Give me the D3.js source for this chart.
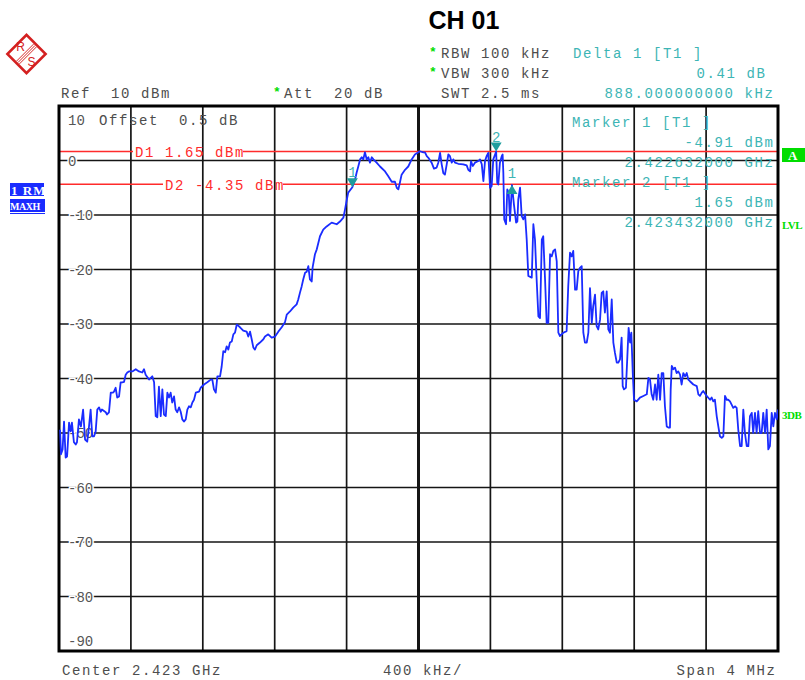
<!DOCTYPE html>
<html>
<head>
<meta charset="utf-8">
<script src="https://cdn.jsdelivr.net/npm/d3@7"></script>
<style>
  body { margin: 0; background: #fff; }
  text { font-family: "Liberation Mono", "DejaVu Sans Mono", monospace; font-size: 14px; letter-spacing: 1.6px; white-space: pre; }
</style>
</head>
<body>
<svg id="chart" width="805" height="680"></svg>
<script>
// trace: frequency offset from centre (kHz) and level (dBm)
const freqKHz = [
  -1994,-1989,-1980,-1972,-1963,-1955,-1944,-1935,-1928,-1917,
  -1907,-1900,-1889,-1878,-1866,-1855,-1843,-1833,-1824,-1815,
  -1805,-1796,-1787,-1777,-1768,-1761,-1740,-1733,-1722,-1712,
  -1700,-1694,-1685,-1676,-1666,-1657,-1648,-1638,-1629,-1620,
  -1611,-1592,-1573,-1555,-1537,-1527,-1518,-1499,-1481,-1471,
  -1462,-1453,-1444,-1434,-1425,-1416,-1406,-1397,-1388,-1379,
  -1370,-1360,-1351,-1342,-1332,-1323,-1314,-1305,-1295,-1286,
  -1277,-1267,-1258,-1249,-1239,-1221,-1212,-1193,-1175,-1156,
  -1147,-1138,-1128,-1119,-1104,-1095,-1086,-1076,-1067,-1058,
  -1049,-1039,-1030,-1021,-1011,-1003,-993,-975,-956,-947,
  -937,-928,-919,-910,-900,-882,-863,-854,-836,-817,
  -798,-780,-761,-743,-733,-715,-697,-678,-669,-659,
  -650,-641,-631,-622,-613,-604,-594,-589,-576,-566,
  -548,-530,-511,-483,-455,-437,-418,-409,-399,-391,
  -368,-353,-344,-335,-325,-316,-307,-298,-288,-279,
  -270,-260,-251,-233,-214,-186,-168,-149,-131,-121,
  -112,-103,-94,-75,-57,-38,-20,-1,8,27,
  36,46,55,73,86,101,110,120,129,138,
  147,157,166,175,185,194,203,221,249,268,
  277,287,292,302,314,333,342,352,361,370,
  379,388,398,407,416,432,438,444,453,463,
  468,472,477,487,494,502,509,520,531,543,
  550,555,565,574,583,593,602,611,630,639,
  648,658,667,676,686,694,704,713,722,732,
  741,750,760,769,778,787,806,824,833,843,
  852,861,871,880,889,898,908,917,926,936,
  945,954,964,972,982,991,1000,1010,1019,1028,
  1037,1047,1056,1065,1075,1084,1093,1103,1111,1121,
  1130,1136,1143,1154,1162,1169,1177,1184,1192,1199,
  1214,1232,1251,1270,1279,1288,1297,1306,1316,1325,
  1334,1344,1353,1362,1371,1381,1390,1399,1403,1409,
  1418,1427,1436,1445,1455,1464,1473,1483,1492,1501,
  1510,1529,1548,1557,1566,1576,1584,1603,1622,1631,
  1640,1649,1659,1668,1677,1687,1696,1705,1715,1723,
  1733,1742,1751,1761,1770,1779,1789,1798,1807,1816,
  1826,1835,1844,1854,1862,1872,1881,1890,1900,1909,
  1918,1928,1937,1946,1955,1965,1974,1983,1993,2000
];
const levelDbm = [
  -49.4,-53.9,-53.0,-47.9,-54.5,-54.3,-48.1,-49.7,-48.1,-51.7,
  -52.1,-51.7,-47.5,-48.8,-45.7,-51.2,-51.6,-48.8,-45.7,-50.6,
  -50.6,-49.7,-45.7,-45.3,-46.1,-45.7,-46.2,-46.6,-46.2,-42.6,
  -42.6,-42.4,-41.7,-43.5,-43.3,-40.7,-40.7,-40.6,-39.3,-38.9,
  -38.7,-38.7,-38.3,-38.7,-38.9,-38.3,-39.3,-40.2,-39.6,-40.7,
  -46.9,-47.1,-41.5,-46.9,-42.0,-46.6,-46.9,-42.6,-43.5,-42.6,
  -44.4,-43.3,-45.7,-46.2,-45.3,-46.1,-47.5,-47.9,-47.5,-45.7,
  -45.1,-45.3,-44.4,-43.9,-42.6,-42.4,-41.7,-41.1,-40.7,-40.2,
  -40.2,-42.0,-42.6,-39.6,-39.6,-37.8,-35.0,-35.2,-34.1,-34.7,
  -33.4,-33.2,-31.9,-31.6,-30.1,-30.3,-30.6,-31.2,-31.4,-32.3,
  -31.4,-32.8,-34.3,-34.7,-33.9,-33.4,-32.8,-32.3,-31.9,-32.5,
  -32.3,-31.4,-30.6,-29.7,-28.3,-27.7,-27.0,-26.4,-25.5,-24.2,
  -23.1,-21.8,-20.6,-20.4,-19.4,-21.8,-22.2,-19.6,-17.2,-16.3,
  -13.9,-12.7,-12.1,-11.4,-11.7,-11.2,-10.5,-9.0,-7.2,-5.9,
  -4.91,-3.5,-2.2,-1.1,0.2,0.6,0.2,1.5,0.2,0.6,
  -0.4,0.6,0.2,-0.4,-1.1,-2.0,-2.9,-3.9,-3.9,-5.0,
  -5.3,-4.0,-2.6,-1.7,-1.1,0.2,1.1,1.5,1.7,1.5,
  1.5,0.8,0.5,-0.4,-1.5,-1.3,-0.4,1.4,-0.7,-2.3,
  -2.6,-0.7,1.1,0.8,-0.4,0.2,-0.4,-0.6,-0.7,-0.9,
  -1.7,-2.0,-0.1,-1.0,-0.4,-0.1,0.2,-0.7,-3.8,-0.1,
  0.8,1.4,-5.0,-4.7,0.2,1.65,-4.1,-4.4,-0.4,0.8,
  1.1,-2.3,-10.8,-11.7,-5.3,-5.9,-11.1,-4.5,-8.1,-11.4,
  -11.2,-7.2,-5.0,-10.2,-10.8,-9.9,-14.5,-21.2,-21.5,-11.7,
  -14.5,-22.4,-28.6,-28.9,-14.5,-13.9,-21.8,-29.8,-29.8,-17.2,
  -17.6,-16.6,-16.3,-18.5,-31.6,-32.2,-31.6,-31.3,-23.1,-16.9,
  -17.6,-16.6,-23.7,-23.7,-20.3,-19.7,-19.4,-31.6,-33.4,-33.4,
  -31.6,-23.4,-29.8,-26.7,-24.6,-30.4,-31.0,-29.2,-24.3,-24.0,
  -27.9,-24.0,-31.0,-31.6,-25.5,-33.4,-35.3,-37.1,-37.1,-36.5,
  -32.5,-41.4,-42.0,-41.7,-35.9,-30.7,-33.4,-31.6,-39.0,-43.9,
  -44.2,-43.5,-43.2,-42.9,-39.9,-40.2,-42.9,-43.9,-41.1,-43.9,
  -39.3,-43.9,-39.0,-39.0,-45.1,-48.8,-49.0,-49.0,-42.0,-37.7,
  -38.3,-38.0,-39.0,-38.7,-39.3,-41.1,-39.0,-39.6,-39.0,-40.2,
  -40.5,-41.1,-41.4,-42.9,-43.2,-42.6,-42.3,-43.2,-43.9,-43.5,
  -44.2,-43.9,-46.9,-48.8,-50.6,-50.9,-50.6,-43.2,-43.9,-43.9,
  -44.2,-44.8,-45.4,-45.1,-45.4,-49.4,-52.4,-52.4,-45.7,-50.0,
  -52.4,-52.4,-46.9,-46.3,-50.0,-46.3,-50.0,-46.0,-50.0,-50.0,
  -46.3,-50.0,-45.7,-53.0,-52.4,-46.3,-48.8,-46.3,-47.5,-45.7
];

const yTicks = [10, 0, -10, -20, -30, -40, -50, -60, -70, -80, -90];
const xTicks = [-2000, -1600, -1200, -800, -400, 0, 400, 800, 1200, 1600, 2000];

// display lines D1 / D2
const displayLines = [
  { label: "D1 1.65 dBm", level: 1.65, labelX: 135 },
  { label: "D2 -4.35 dBm", level: -4.35, labelX: 165 }
];

// markers: freq offset kHz, level dBm
const markers = [
  { name: "1", freq: -368, level: -4.91, dir: "down" },
  { name: "2", freq: 432, level: 1.65, dir: "down" },
  { name: "1", freq: 520, level: -4.50, dir: "up" }
];

const markerInfo = ["Marker 1 [T1 ]", "-4.91 dBm", "2.422632000 GHz", "Marker 2 [T1 ]", "1.65 dBm", "2.423432000 GHz"];

const gray = "#4d4d4d";
const teal = "#3db5b5";
const red = "#ff2b2b";
const green = "#00dd00";
const blue = "#1a2cff";

const svg = d3.select("#chart");
const plot = { left: 59, right: 778, top: 106, bottom: 651 };

const x = d3.scaleLinear().domain([-2000, 2000]).range([plot.left, plot.right]);
const y = d3.scaleLinear().domain([10, -90]).range([plot.top, plot.bottom]);

function label(xp, yp, str, color, anchor) {
  return svg.append("text")
    .attr("x", xp)
    .attr("y", yp)
    .attr("fill", color || gray)
    .attr("text-anchor", anchor || "start")
    .text(str);
}

// R&S logo
const logo = svg.append("g").attr("transform", "translate(26.5,54) rotate(45)");
logo.append("rect")
  .attr("x", -13.5).attr("y", -13.5)
  .attr("width", 27).attr("height", 27)
  .attr("fill", "none")
  .attr("stroke", "#d42020")
  .attr("stroke-width", 2.6);
[-2, 0, 2].forEach(o => {
  logo.append("line")
    .attr("x1", o).attr("x2", o)
    .attr("y1", -12).attr("y2", 12)
    .attr("stroke", "#d42020").attr("stroke-width", 0.9);
});
svg.append("text").attr("x", 20.5).attr("y", 51).attr("text-anchor", "middle")
  .style("font-family", "Liberation Sans").style("font-size", "12px").style("letter-spacing", "0")
  .attr("fill", "#d42020").text("R");
svg.append("text").attr("x", 31.5).attr("y", 66).attr("text-anchor", "middle")
  .style("font-family", "Liberation Sans").style("font-size", "12px").style("letter-spacing", "0")
  .attr("fill", "#d42020").text("S");

// Title
svg.append("text")
  .attr("x", 464).attr("y", 29)
  .attr("text-anchor", "middle")
  .style("font-family", "Liberation Sans, Arial, sans-serif")
  .style("font-weight", "bold")
  .style("font-size", "25px")
  .style("letter-spacing", "0")
  .attr("fill", "#000")
  .text("CH 01");

// header settings
label(441, 58, "RBW 100 kHz");
label(441, 78, "VBW 300 kHz");
label(441, 98, "SWT 2.5 ms");
label(61, 98, "Ref  10 dBm");
label(284, 98, "Att  20 dB");
[[429, 56], [429, 76], [273, 96]].forEach(p => {
  svg.append("text").attr("x", p[0]).attr("y", p[1])
    .style("font-size", "13px").style("letter-spacing", "0")
    .style("font-weight", "bold")
    .attr("fill", green).text("*");
});
label(573, 58, "Delta 1 [T1 ]", teal);
label(766.6, 78, "0.41 dB", teal, "end");
label(774.6, 98, "888.000000000 kHz", teal, "end");

// grid
svg.append("g")
  .selectAll("line")
  .data(xTicks.slice(1, -1))
  .join("line")
  .attr("x1", d => x(d)).attr("x2", d => x(d))
  .attr("y1", plot.top).attr("y2", plot.bottom)
  .attr("stroke", "#151515")
  .attr("stroke-width", d => d === 0 ? 3 : 1.7);

svg.append("g")
  .selectAll("line")
  .data(yTicks.slice(1, -1))
  .join("line")
  .attr("x1", plot.left).attr("x2", plot.right)
  .attr("y1", d => y(d)).attr("y2", d => y(d))
  .attr("stroke", "#151515")
  .attr("stroke-width", 1.7);

// y tick labels, white behind them so the grid line stops
svg.append("g")
  .selectAll("text")
  .data(yTicks)
  .join("text")
  .attr("x", 68)
  .attr("y", d => d === 10 ? 120 : d === -90 ? 641 : y(d))
  .attr("dy", "0.36em")
  .style("letter-spacing", "0")
  .attr("fill", "#555")
  .attr("stroke", "#fff")
  .attr("stroke-width", 3)
  .attr("paint-order", "stroke")
  .text(d => String(d));

label(99, 125, "Offset  0.5 dB");

// display lines, broken where the label sits
displayLines.forEach(dl => {
  const ly = y(dl.level);
  const w = dl.label.length * 10;
  svg.append("line")
    .attr("x1", plot.left).attr("x2", dl.labelX - 2)
    .attr("y1", ly).attr("y2", ly)
    .attr("stroke", red).attr("stroke-width", 1.6);
  svg.append("line")
    .attr("x1", dl.labelX + w - 2).attr("x2", plot.right)
    .attr("y1", ly).attr("y2", ly)
    .attr("stroke", red).attr("stroke-width", 1.6);
  label(dl.labelX, ly + 5.5, dl.label, red);
});

// frame
svg.append("rect")
  .attr("x", plot.left).attr("y", plot.top)
  .attr("width", plot.right - plot.left)
  .attr("height", plot.bottom - plot.top)
  .attr("fill", "none")
  .attr("stroke", "#000")
  .attr("stroke-width", 3);

// marker readout
const infoY = [127, 147, 167, 187, 207, 227];
markerInfo.forEach((s, i) => {
  if (i % 3 === 0) label(572, infoY[i], s, teal);
  else label(774.6, infoY[i], s, teal, "end");
});

// trace
svg.append("clipPath").attr("id", "plotclip")
  .append("rect")
  .attr("x", plot.left).attr("y", plot.top)
  .attr("width", plot.right - plot.left)
  .attr("height", plot.bottom - plot.top);

const traceData = d3.zip(freqKHz, levelDbm);
const line = d3.line()
  .x(d => x(d[0]))
  .y(d => y(d[1]));

svg.append("path")
  .datum(traceData)
  .attr("clip-path", "url(#plotclip)")
  .attr("fill", "none")
  .attr("stroke", blue)
  .attr("stroke-width", 1.8)
  .attr("stroke-linejoin", "round")
  .attr("d", line);

// markers
markers.forEach(m => {
  const mx = x(m.freq), my = y(m.level);
  const tri = m.dir === "down"
    ? `M${mx - 5.5},${my - 9}L${mx + 5.5},${my - 9}L${mx},${my}Z`
    : `M${mx},${my}L${mx + 5.5},${my + 9}L${mx - 5.5},${my + 9}Z`;
  svg.append("path").attr("d", tri).attr("fill", "#1e9d9d");
  svg.append("text")
    .attr("x", mx).attr("y", m.dir === "down" ? my - 10 : my - 7)
    .attr("text-anchor", "middle")
    .style("letter-spacing", "0")
    .attr("fill", teal)
    .text(m.name);
});

// left status boxes
svg.append("clipPath").attr("id", "boxclip1")
  .append("rect").attr("x", 10).attr("y", 183).attr("width", 34).attr("height", 14);
svg.append("clipPath").attr("id", "boxclip2")
  .append("rect").attr("x", 10).attr("y", 199).attr("width", 35).attr("height", 15);
svg.append("rect").attr("x", 10).attr("y", 183).attr("width", 34).attr("height", 14).attr("fill", blue);
svg.append("rect").attr("x", 10).attr("y", 199).attr("width", 35).attr("height", 15).attr("fill", blue);
svg.append("text").attr("x", 11).attr("y", 195)
  .attr("clip-path", "url(#boxclip1)")
  .style("font-family", "Liberation Serif").style("font-weight", "bold")
  .style("font-size", "13px").style("letter-spacing", "1px")
  .attr("fill", "#fff").text("1 RM *");
svg.append("text").attr("x", 10).attr("y", 210)
  .attr("clip-path", "url(#boxclip2)")
  .style("font-family", "Liberation Serif").style("font-weight", "bold")
  .style("font-size", "10px").style("letter-spacing", "-0.5px")
  .attr("fill", "#fff").text("MAXH");
svg.append("line").attr("x1", 10).attr("x2", 44).attr("y1", 196.5).attr("y2", 196.5).attr("stroke", "#fff");
svg.append("line").attr("x1", 10).attr("x2", 45).attr("y1", 212.5).attr("y2", 212.5).attr("stroke", "#fff");

// right status
svg.append("rect").attr("x", 782).attr("y", 148).attr("width", 23).attr("height", 14).attr("fill", green);
svg.append("text").attr("x", 788).attr("y", 160)
  .style("font-family", "Liberation Serif").style("font-weight", "bold")
  .style("font-size", "13px").style("letter-spacing", "0")
  .attr("fill", "#fff").text("A");
[["LVL", 229], ["3DB", 419]].forEach(s => {
  svg.append("text").attr("x", 782).attr("y", s[1])
    .style("font-family", "Liberation Serif").style("font-weight", "bold")
    .style("font-size", "11px").style("letter-spacing", "-0.5px")
    .attr("fill", green).text(s[0]);
});

// bottom
label(62, 675, "Center 2.423 GHz");
label(383, 675, "400 kHz/");
label(776.6, 675, "Span 4 MHz", gray, "end");
</script>
</body>
</html>
